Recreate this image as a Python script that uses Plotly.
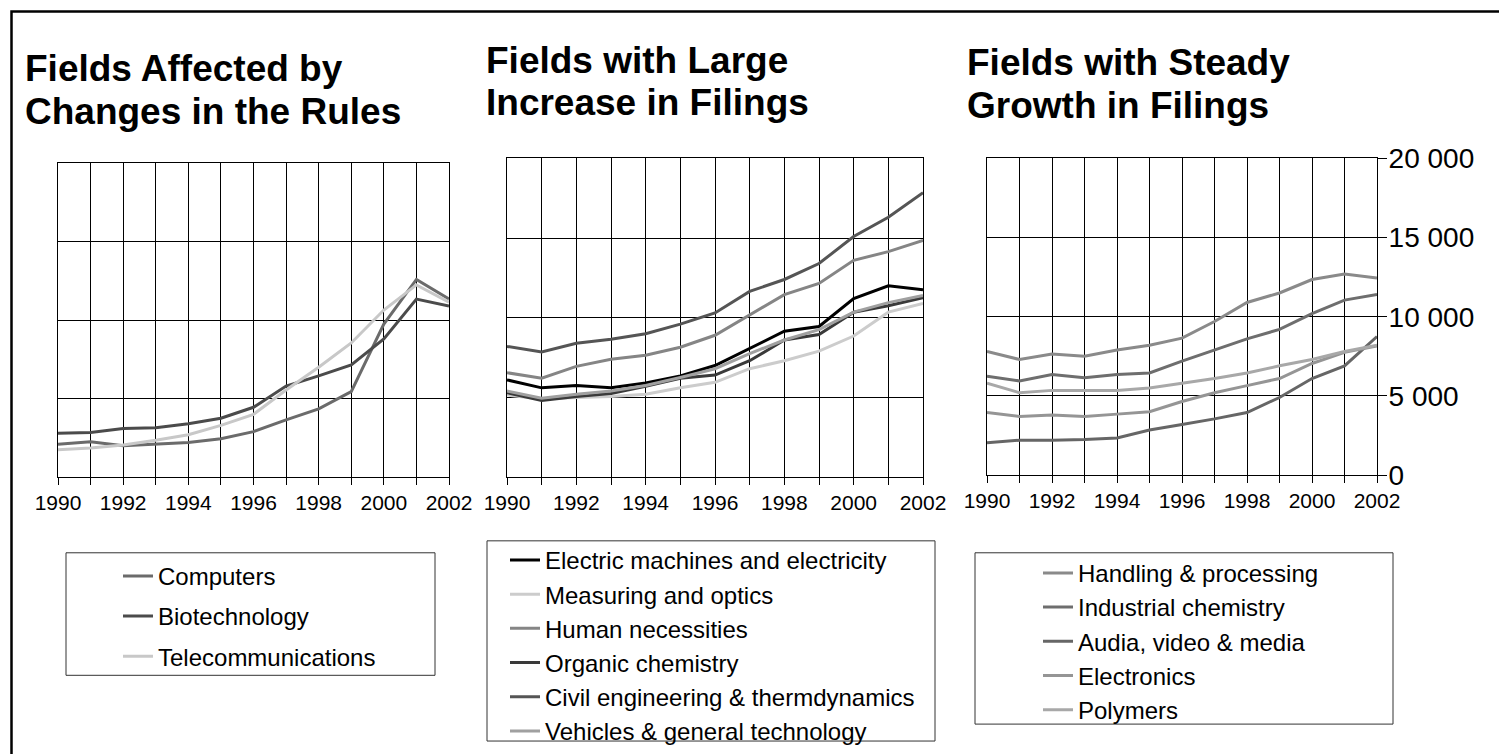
import plotly.graph_objects as go

# ---------------- data ----------------
years = list(range(1990, 2003))
x_tick_labels = [str(y) if y % 2 == 0 else "" for y in years]
y_tick_vals = [0, 5000, 10000, 15000, 20000]
y_tick_labels = ["0", "5 000", "10 000", "15 000", "20 000"]

titles_1 = ["Fields Affected by", "Changes in the Rules"]
titles_2 = ["Fields with Large", "Increase in Filings"]
titles_3 = ["Fields with Steady", "Growth in Filings"]

# Panel 1
p1_names = ["Computers", "Biotechnology", "Telecommunications"]
computers = [2100, 2250, 2000, 2100, 2200, 2450, 2900, 3650, 4350, 5450, 9750, 12600, 11350]
biotechnology = [2800, 2850, 3100, 3150, 3400, 3750, 4450, 5800, 6450, 7150, 8800, 11350, 10900]
telecommunications = [1750, 1850, 2050, 2350, 2700, 3300, 4000, 5550, 7000, 8550, 10650, 12250, 11150]

# Panel 2
p2_names = ["Electric machines and electricity", "Measuring and optics", "Human necessities",
            "Organic chemistry", "Civil engineering & thermdynamics", "Vehicles & general technology"]
electric = [6100, 5600, 5750, 5600, 5900, 6350, 7000, 8100, 9150, 9450, 11200, 12000, 11750]
measuring = [5150, 4900, 5000, 5050, 5200, 5600, 5950, 6800, 7300, 7900, 8850, 10350, 10900]
human = [6550, 6200, 6950, 7400, 7650, 8150, 8900, 10150, 11450, 12150, 13600, 14150, 14850]
organic = [5300, 4800, 5050, 5250, 5700, 6200, 6400, 7300, 8600, 8950, 10350, 10750, 11250]
civil = [8200, 7850, 8400, 8650, 9000, 9600, 10300, 11650, 12400, 13400, 15100, 16300, 17850]
vehicles = [5400, 4950, 5200, 5400, 5750, 6250, 6800, 7750, 8600, 9250, 10350, 10950, 11400]

# Panel 3
p3_names = ["Handling & processing", "Industrial chemistry", "Audia, video & media",
            "Electronics", "Polymers"]
handling = [7800, 7300, 7650, 7500, 7900, 8200, 8650, 9700, 10900, 11500, 12350, 12700, 12450]
industrial = [6250, 5950, 6350, 6150, 6350, 6450, 7200, 7900, 8600, 9200, 10200, 11050, 11400]
audio = [2050, 2200, 2200, 2250, 2350, 2850, 3200, 3550, 3950, 4900, 6100, 6900, 8750]
electronics = [3950, 3700, 3800, 3700, 3850, 4000, 4650, 5200, 5650, 6100, 7050, 7750, 8150]
polymers = [5800, 5200, 5350, 5350, 5350, 5500, 5800, 6100, 6450, 6900, 7300, 7800, 8200]

# ---------------- styling ----------------
W, H = 1499, 754
FONT = "Liberation Sans, Arial, Helvetica, sans-serif"


def px(p):
    return p / W


def py(p):
    return 1 - p / H


p1_colors = ["#6b6b6b", "#4b4b4b", "#c8c8c8"]
p2_colors = ["#000000", "#cccccc", "#858585", "#3a3a3a", "#555555", "#a0a0a0"]
p3_colors = ["#8a8a8a", "#6e6e6e", "#666666", "#959595", "#a8a8a8"]

fig = go.Figure()

panels = [
    ("x", "y", "legend", p1_names, [computers, biotechnology, telecommunications], p1_colors),
    ("x2", "y2", "legend2", p2_names, [electric, measuring, human, organic, civil, vehicles], p2_colors),
    ("x3", "y3", "legend3", p3_names, [handling, industrial, audio, electronics, polymers], p3_colors),
]
for xa, ya, lg, names, series, colors in panels:
    for name, vals, col in zip(names, series, colors):
        fig.add_trace(go.Scatter(
            x=years, y=vals, mode="lines", name=name,
            line=dict(color=col, width=3),
            xaxis=xa, yaxis=ya, legend=lg, legendgroup=name,
        ))


def xaxis(domain, anchor):
    return dict(
        domain=domain, anchor=anchor, range=[1990, 2002],
        tickvals=years, ticktext=x_tick_labels,
        showgrid=True, gridcolor="#000000", gridwidth=1,
        showline=True, mirror=True, linecolor="#000000", linewidth=1,
        ticks="outside", ticklen=7, tickcolor="#000000", tickwidth=1,
        tickfont=dict(size=21, color="#000000", family=FONT),
        zeroline=False, automargin=False, fixedrange=True,
    )


def yaxis(domain, anchor, labels):
    d = dict(
        domain=domain, anchor=anchor, range=[0, 20000],
        tickvals=y_tick_vals, ticktext=y_tick_labels,
        showgrid=True, gridcolor="#000000", gridwidth=1,
        showline=True, mirror=True, linecolor="#000000", linewidth=1,
        zeroline=False, automargin=False, fixedrange=True,
        tickfont=dict(size=28, color="#000000", family=FONT),
    )
    if labels:
        d.update(side="right", ticks="outside", ticklen=9, tickcolor="#000000",
                 showticklabels=True, ticklabelstandoff=-4)
    else:
        d.update(ticks="", showticklabels=False)
    return d


legend_common = dict(
    xanchor="left", yanchor="top", bgcolor="rgba(0,0,0,0)", borderwidth=0,
    font=dict(size=24, color="#000000", family=FONT), orientation="v",
)

annotations = []
title_specs = [
    (titles_1, 23, [69, 112]),
    (titles_2, 484, [61, 103]),
    (titles_3, 965, [63, 105.5]),
]
for lines, x0, ys in title_specs:
    for text, yc in zip(lines, ys):
        annotations.append(dict(
            text=text, xref="paper", yref="paper", x=px(x0), y=py(yc),
            xanchor="left", yanchor="middle", showarrow=False,
            font=dict(size=37, color="#000000", family=FONT, weight="bold"),
        ))

shapes = [
    # outer frame
    dict(type="rect", xref="paper", yref="paper", x0=px(11.5), x1=px(1530),
         y0=py(790), y1=py(11.5), line=dict(color="#000000", width=2.5)),
    # legend boxes
    dict(type="rect", xref="paper", yref="paper", x0=px(66), x1=px(435),
         y0=py(678), y1=py(555), line=dict(color="#333333", width=1)),
    dict(type="rect", xref="paper", yref="paper", x0=px(487), x1=px(935),
         y0=py(744), y1=py(543), line=dict(color="#333333", width=1)),
    dict(type="rect", xref="paper", yref="paper", x0=px(975), x1=px(1393),
         y0=py(727), y1=py(555), line=dict(color="#333333", width=1)),
]

fig.update_layout(
    width=W, height=H, template="none",
    margin=dict(l=0, r=0, t=0, b=0, pad=0),
    paper_bgcolor="#ffffff", plot_bgcolor="#ffffff",
    font=dict(family=FONT, color="#000000"),
    xaxis=xaxis([px(58), px(449)], "y"),
    yaxis=yaxis([py(479), py(164)], "x", False),
    xaxis2=xaxis([px(507), px(923)], "y2"),
    yaxis2=yaxis([py(479), py(159)], "x2", False),
    xaxis3=xaxis([px(987), px(1377)], "y3"),
    yaxis3=yaxis([py(477), py(159)], "x3", True),
    legend=dict(legend_common, x=px(118), y=py(556), tracegroupgap=6),
    legend2=dict(legend_common, x=px(505), y=py(540), tracegroupgap=0),
    legend3=dict(legend_common, x=px(1038), y=py(553), tracegroupgap=0),
    annotations=annotations,
    shapes=shapes,
    showlegend=True,
)

fig.write_html("out.html", include_plotlyjs=True, config={"displayModeBar": False},
               post_script="document.body.style.margin='0';document.body.style.overflow='hidden';")
